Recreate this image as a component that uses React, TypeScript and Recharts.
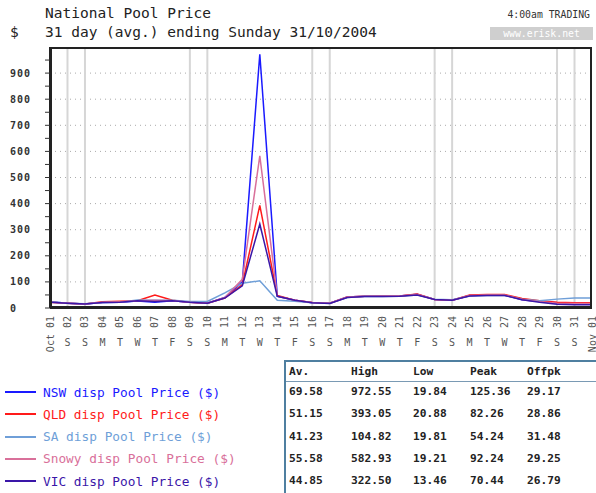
import React from 'react';
import { LineChart, Line, XAxis, YAxis, ReferenceLine } from 'recharts';

// day index 1..32 (32 = Nov 01)
const days = [1, 2, 3, 4, 5, 6, 7, 8, 9, 10, 11, 12, 13, 14, 15, 16, 17, 18, 19, 20, 21, 22, 23, 24, 25, 26, 27, 28, 29, 30, 31, 32];
const dayNumbers = ['01', '02', '03', '04', '05', '06', '07', '08', '09', '10', '11', '12', '13', '14', '15', '16', '17', '18', '19', '20', '21', '22', '23', '24', '25', '26', '27', '28', '29', '30', '31', '01'];
const dayLetters = ['Oct', 'S', 'S', 'M', 'T', 'W', 'T', 'F', 'S', 'S', 'M', 'T', 'W', 'T', 'F', 'S', 'S', 'M', 'T', 'W', 'T', 'F', 'S', 'S', 'M', 'T', 'W', 'T', 'F', 'S', 'S', 'Nov'];
const weekendDays = [2, 3, 9, 10, 16, 17, 23, 24, 30, 31];

const nsw = [24, 18, 15, 21, 22, 27, 22, 28, 22, 18, 40, 100, 972, 45, 30, 20, 18, 42, 45, 45, 46, 53, 33, 30, 48, 50, 50, 32, 25, 20, 20, 20];
const qld = [22, 18, 15, 24, 26, 28, 50, 30, 22, 18, 38, 90, 393, 48, 30, 21, 18, 42, 45, 45, 46, 54, 33, 30, 50, 52, 52, 36, 28, 22, 20, 20];
const sa = [24, 18, 16, 21, 22, 31, 30, 30, 25, 25, 58, 95, 104, 30, 26, 20, 18, 40, 45, 44, 45, 50, 34, 32, 46, 48, 48, 34, 28, 34, 38, 38];
const snowy = [22, 18, 15, 22, 24, 28, 30, 28, 22, 18, 40, 110, 583, 45, 30, 21, 18, 42, 45, 45, 46, 52, 33, 30, 48, 50, 50, 33, 25, 18, 17, 17];
const vic = [22, 18, 15, 21, 22, 28, 25, 28, 22, 18, 38, 85, 322, 45, 30, 20, 17, 40, 44, 44, 45, 50, 33, 30, 46, 48, 48, 32, 22, 14, 12, 12];

const yTicks = [0, 50, 100, 150, 200, 250, 300, 350, 400, 450, 500, 550, 600, 650, 700, 750, 800, 850, 900, 950];
const gridValues = [100, 200, 300, 400, 500, 600, 700, 800, 900];

const seriesNames = ['NSW disp Pool Price ($)', 'QLD disp Pool Price ($)', 'SA disp Pool Price ($)', 'Snowy disp Pool Price ($)', 'VIC disp Pool Price ($)'];
const seriesKeys = ['nsw', 'qld', 'sa', 'snowy', 'vic'];
const seriesColors = ['#1a1aff', '#ff1a1a', '#6f9fd8', '#d9709a', '#3a16a8'];

const statHeaders = ['Av.', 'High', 'Low', 'Peak', 'Offpk'];
const statAv = ['69.58', '51.15', '41.23', '55.58', '44.85'];
const statHigh = ['972.55', '393.05', '104.82', '582.93', '322.50'];
const statLow = ['19.84', '20.88', '19.81', '19.21', '13.46'];
const statPeak = ['125.36', '82.26', '54.24', '92.24', '70.44'];
const statOffpk = ['29.17', '28.86', '31.48', '29.25', '26.79'];

const chartData = days.map((d, i) => ({
  day: d,
  nsw: nsw[i],
  qld: qld[i],
  sa: sa[i],
  snowy: snowy[i],
  vic: vic[i],
}));

const MONO = '"DejaVu Sans Mono", "Liberation Mono", monospace';

function XTick(props: any) {
  const { x, y, payload } = props;
  const i = days.indexOf(payload.value);
  if (i < 0) return null;
  const edge = i === 0 || i === days.length - 1;
  if (edge) {
    return (
      <text
        transform={`translate(${x},${y + 2}) rotate(-90)`}
        textAnchor="end"
        dy="0.35em"
        fontFamily={MONO}
        fontSize={10}
        fill="#555"
      >
        {dayLetters[i] + ' ' + dayNumbers[i]}
      </text>
    );
  }
  return (
    <g>
      <text
        transform={`translate(${x},${y + 2}) rotate(-90)`}
        textAnchor="end"
        dy="0.35em"
        fontFamily={MONO}
        fontSize={10}
        fill="#555"
      >
        {dayNumbers[i]}
      </text>
      <text x={x} y={y + 32} textAnchor="middle" fontFamily={MONO} fontSize={10} fill="#555">
        {dayLetters[i]}
      </text>
    </g>
  );
}

function YTick(props: any) {
  const { y, payload } = props;
  if (payload.value % 100 !== 0) return null;
  return (
    <text x={10} y={y} dy="0.35em" textAnchor="start" fontFamily={MONO} fontSize={10} fontWeight="bold" fill="#333" letterSpacing={1}>
      {payload.value}
    </text>
  );
}

export default function App() {
  return (
    <div style={{ position: 'fixed', left: 0, top: 0, width: 596, height: 493, background: '#fff', overflow: 'hidden', fontFamily: MONO }}>
      <div style={{ position: 'absolute', left: 45, top: 5, fontSize: 14.5, color: '#222' }}>National Pool Price</div>
      <div style={{ position: 'absolute', left: 10, top: 24, fontSize: 14.5, color: '#222' }}>$</div>
      <div style={{ position: 'absolute', left: 45, top: 24, fontSize: 14.5, color: '#222' }}>31 day (avg.) ending Sunday 31/10/2004</div>
      <div style={{ position: 'absolute', right: 6, top: 9, fontSize: 9.8, color: '#333' }}>4:00am TRADING</div>
      <div style={{ position: 'absolute', left: 490, top: 27, width: 103, height: 13, background: '#cfcfcf', color: '#fff', fontSize: 9.8, lineHeight: '13px', textAlign: 'center' }}>www.erisk.net</div>

      <div style={{ position: 'absolute', left: 0, top: 0 }}>
        <LineChart width={596} height={360} data={chartData} margin={{ top: 47, right: 4, bottom: 0, left: 10 }}>
          <XAxis
            dataKey="day"
            type="number"
            domain={[1, 32]}
            ticks={days}
            interval={0}
            height={52}
            tick={<XTick />}
            tickLine={false}
            tickSize={4}
            axisLine={{ stroke: '#222', strokeWidth: 2 }}
          />
          <YAxis
            type="number"
            domain={[0, 1000]}
            ticks={yTicks}
            interval={0}
            width={40}
            tick={<YTick />}
            tickSize={5}
            tickLine={{ stroke: '#333' }}
            axisLine={{ stroke: '#222', strokeWidth: 2 }}
          />
          {gridValues.map((v) => (
            <ReferenceLine key={`g${v}`} y={v} stroke="#aaa" strokeDasharray="1 4" />
          ))}
          {weekendDays.map((d) => (
            <ReferenceLine key={`w${d}`} x={d} stroke="#d6d6d6" strokeWidth={2} />
          ))}
          {seriesKeys.map((k, i) => (
            <Line
              key={k}
              type="linear"
              dataKey={k}
              stroke={seriesColors[i]}
              strokeWidth={1.5}
              dot={false}
              isAnimationActive={false}
            />
          ))}
        </LineChart>
      </div>
      <div style={{ position: 'absolute', left: 50, top: 47, width: 542, height: 261, border: '2px solid #222', boxSizing: 'border-box', pointerEvents: 'none' }} />

      {seriesNames.map((n, i) => (
        <div key={n} style={{ position: 'absolute', left: 5, top: 383 + i * 22.3, height: 18, display: 'flex', alignItems: 'center' }}>
          <div style={{ width: 31, height: 0, borderTop: `2px solid ${seriesColors[i]}` }} />
          <div style={{ marginLeft: 7, fontSize: 12.8, color: seriesColors[i] }}>{n}</div>
        </div>
      ))}

      <div style={{ position: 'absolute', left: 284, top: 360, width: 320, height: 140, border: '2px solid #4f7fa0', boxSizing: 'border-box' }} />
      <div style={{ position: 'absolute', left: 286, top: 381, width: 312, height: 0, borderTop: '1px solid #7a9ab4' }} />
      {[statHeaders].concat(statAv.map((_, r) => [statAv[r], statHigh[r], statLow[r], statPeak[r], statOffpk[r]])).map((row, r) => (
        <div key={r} style={{ position: 'absolute', left: 0, top: r === 0 ? 364 : 384 + (r - 1) * 22.3, height: 16 }}>
          {row.map((c, j) => (
            <div key={j} style={{ position: 'absolute', left: [289, 351, 413, 470, 527][j], top: 0, fontSize: 11.2, lineHeight: '16px', fontWeight: 'bold', color: '#222', whiteSpace: 'nowrap' }}>{c}</div>
          ))}
        </div>
      ))}
    </div>
  );
}
